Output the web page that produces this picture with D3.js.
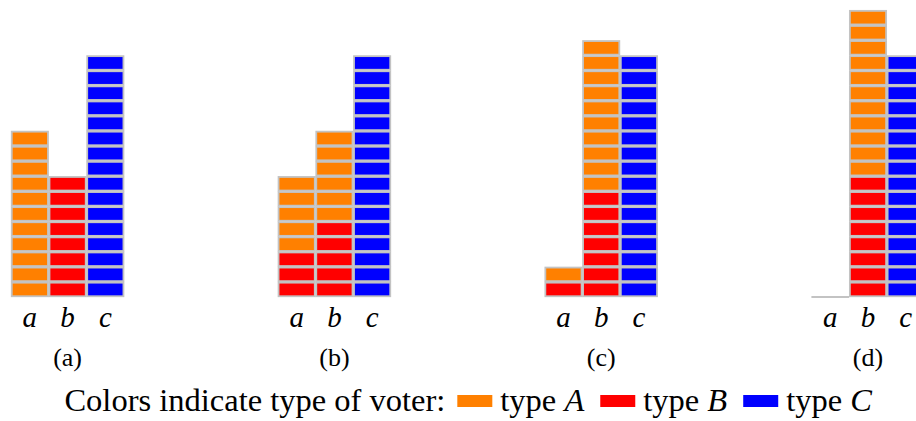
<!DOCTYPE html>
<html><head><meta charset="utf-8">
<script src="https://cdn.jsdelivr.net/npm/d3@7"></script>
<style>html,body{margin:0;padding:0;background:#fff;}svg{display:block;}</style>
</head><body>
<svg id="chart" width="916" height="421"></svg>
<script>
const panels = ["(a)", "(b)", "(c)", "(d)"];
const candidates = ["a", "b", "c"];
// counts per panel, per candidate
const typeB = [[0, 8, 0], [3, 5, 0], [1, 7, 0], [0, 8, 0]];
const typeA = [[11, 0, 0], [5, 6, 0], [1, 10, 0], [0, 11, 0]];
const typeC = [[0, 0, 16], [0, 0, 16], [0, 0, 16], [0, 0, 16]];
const legendTypes = ["A", "B", "C"];
const colors = {A: "#ff8000", B: "#ff0000", C: "#0000ff"};

const svg = d3.select("#chart");
const serif = "'Liberation Serif', 'DejaVu Serif', serif";

const panelX = d3.scaleBand().domain(panels).range([11, 11 + 4 * 266.8]).padding(0);
const colX = d3.scaleBand().domain(candidates).range([0, 113.2]).padding(0);
const y = d3.scaleLinear().domain([0, 20]).range([297, 297 - 20 * 15.1]);

const cells = [];
panels.forEach((p, pi) => {
  candidates.forEach((c, ci) => {
    let k = 0;
    [["B", typeB], ["A", typeA], ["C", typeC]].forEach(([t, arr]) => {
      for (let i = 0; i < arr[pi][ci]; i++) { cells.push({p, c, t, k}); k++; }
    });
  });
});

const g = svg.append("g");
g.selectAll("rect.cell").data(cells).join("rect")
  .attr("class", "cell")
  .attr("x", d => panelX(d.p) + colX(d.c) + 0.75)
  .attr("y", d => y(d.k + 1) + 0.75)
  .attr("width", colX.bandwidth() - 1.5)
  .attr("height", y(0) - y(1) - 1.5)
  .attr("fill", d => colors[d.t])
  .attr("stroke", "#c3c3c3")
  .attr("stroke-width", 1.8);

// baseline for empty columns
panels.forEach((p, pi) => {
  candidates.forEach((c, ci) => {
    const total = typeA[pi][ci] + typeB[pi][ci] + typeC[pi][ci];
    if (total === 0) {
      g.append("line")
        .attr("x1", panelX(p) + colX(c)).attr("x2", panelX(p) + colX(c) + colX.bandwidth())
        .attr("y1", y(0)).attr("y2", y(0))
        .attr("stroke", "#c3c3c3").attr("stroke-width", 2);
    }
  });
});

// candidate labels
panels.forEach(p => {
  svg.selectAll(null).data(candidates).join("text")
    .attr("x", c => panelX(p) + colX(c) + colX.bandwidth() / 2)
    .attr("y", 327)
    .attr("text-anchor", "middle")
    .attr("font-family", serif)
    .attr("font-style", "italic")
    .attr("font-size", 29)
    .text(c => c);
});

// panel labels
svg.selectAll("text.plabel").data(panels).join("text")
  .attr("class", "plabel")
  .attr("x", p => panelX(p) + 113.2 / 2)
  .attr("y", 366)
  .attr("text-anchor", "middle")
  .attr("font-family", serif)
  .attr("font-size", 26)
  .text(p => p);

// legend
const leg = svg.append("g").attr("font-family", serif).attr("font-size", 32.5);
let cx = 0;
const baseY = 411;
const t0 = leg.append("text").attr("x", cx).attr("y", baseY).text("Colors indicate type of voter:");
cx += t0.node().getComputedTextLength() + 12;
legendTypes.forEach((t, i) => {
  leg.append("rect").attr("x", cx).attr("y", baseY - 16).attr("width", 35).attr("height", 12).attr("fill", colors[t]);
  cx += 43;
  const tx = leg.append("text").attr("x", cx).attr("y", baseY);
  tx.append("tspan").text("type ");
  tx.append("tspan").attr("font-style", "italic").text(t);
  cx += tx.node().getComputedTextLength() + (i < 2 ? 16 : 0);
});
leg.attr("transform", `translate(${872 - cx},0)`);
</script>
</body></html>
